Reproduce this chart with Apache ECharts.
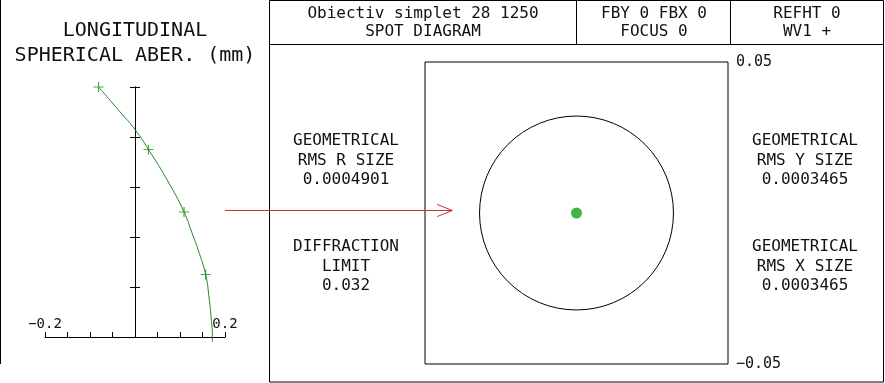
<!DOCTYPE html>
<html>
<head>
<meta charset="utf-8">
<script src="https://cdn.jsdelivr.net/npm/echarts@6/dist/echarts.min.js"></script>
<style>
html,body{margin:0;padding:0;background:#fff;}
#c{width:885px;height:383px;}
</style>
</head>
<body>
<div id="c"></div>
<script>
// ---- Data ----
// Longitudinal spherical aberration curve (x = aberration in mm, y = normalized pupil height)
const curveX = [-0.081, -0.033, 0.000, 0.030, 0.074, 0.109, 0.127, 0.140, 0.157, 0.165, 0.169, 0.172, 0.172];
const curveY = [1.00, 0.90, 0.83, 0.75, 0.62, 0.50, 0.415, 0.35, 0.25, 0.15, 0.08, 0.00, -0.02];
// '+' markers on the curve
const markerX = [-0.081, 0.030, 0.109, 0.157];
const markerY = [1.00, 0.75, 0.50, 0.25];
// Aberration axis tick labels
const aberTickLabels = ['-0.2', '0.2'];
// Spot diagram
const spotX = [0];
const spotY = [0];
const diffractionLimit = 0.032;   // Airy radius (mm)
const spotTickLabels = ['-0.05', '0.05'];
// Texts
const leftTitle = ['LONGITUDINAL', 'SPHERICAL ABER. (mm)'];
const headerCells = [
  ['Obiectiv simplet 28 1250', 'SPOT DIAGRAM'],
  ['FBY 0 FBX 0', 'FOCUS 0'],
  ['REFHT 0', 'WV1 +']
];
const leftInfo = [
  ['GEOMETRICAL', 'RMS R SIZE', '0.0004901'],
  ['DIFFRACTION', 'LIMIT', '0.032']
];
const rightInfo = [
  ['GEOMETRICAL', 'RMS Y SIZE', '0.0003465'],
  ['GEOMETRICAL', 'RMS X SIZE', '0.0003465']
];

const FONT = '"DejaVu Sans Mono", "Liberation Mono", monospace';
const GREEN = '#1f8c1f';
const INK = '#111';

const chart = echarts.init(document.getElementById('c'), null, {renderer: 'canvas'});

function fmtLabel(v, labels) {
  for (const s of labels) {
    if (Math.abs(parseFloat(s) - v) < 1e-9) return s.replace('-', '\u2212');
  }
  return '';
}

const option = {
  animation: false,
  backgroundColor: '#fff',
  grid: [
    {left: 45, top: 87, width: 180, height: 250},
    {left: 425, top: 62, width: 303, height: 302, show: true, borderColor: '#000', borderWidth: 1, backgroundColor: 'transparent'}
  ],
  xAxis: [
    {
      type: 'value', gridIndex: 0, min: -0.2, max: 0.2, interval: 0.05,
      axisLine: {show: true, onZero: true, lineStyle: {color: '#000', width: 1}},
      axisTick: {show: true, inside: true, length: 5, lineStyle: {color: '#000'}},
      axisLabel: {show: true, inside: true, margin: 6, color: INK, fontFamily: FONT, fontSize: 14,
        showMinLabel: true, showMaxLabel: true, hideOverlap: false,
        formatter: v => fmtLabel(v, aberTickLabels)},
      splitLine: {show: false}
    },
    {type: 'value', gridIndex: 1, min: -0.05, max: 0.05, show: false}
  ],
  yAxis: [
    {
      type: 'value', gridIndex: 0, min: 0, max: 1, interval: 0.2, position: 'left',
      axisLine: {show: true, onZero: true, lineStyle: {color: '#000', width: 1}},
      axisTick: {show: true, inside: false, length: 5, lineStyle: {color: '#000'}},
      axisLabel: {show: false}, splitLine: {show: false}
    },
    {
      type: 'value', gridIndex: 0, min: 0, max: 1, interval: 0.2, position: 'right',
      axisLine: {show: true, onZero: true, onZeroAxisIndex: 0, lineStyle: {color: '#000', width: 1}},
      axisTick: {show: true, inside: false, length: 5, lineStyle: {color: '#000'}},
      axisLabel: {show: false}, splitLine: {show: false}
    },
    {
      type: 'value', gridIndex: 1, min: -0.05, max: 0.05, interval: 0.05, position: 'right',
      axisLine: {show: false}, axisTick: {show: false}, splitLine: {show: false},
      axisLabel: {show: true, margin: 8, color: INK, fontFamily: FONT, fontSize: 15,
        showMinLabel: true, showMaxLabel: true,
        formatter: v => fmtLabel(v, spotTickLabels)}
    }
  ],
  series: [
    {
      type: 'line', xAxisIndex: 0, yAxisIndex: 0, smooth: 0.5, showSymbol: false, clip: false,
      lineStyle: {color: GREEN, width: 1}, silent: true,
      data: curveX.map((x, i) => [x, curveY[i]])
    },
    {
      type: 'scatter', xAxisIndex: 0, yAxisIndex: 0, symbol: 'path://M0,5L10,5M5,0L5,10',
      symbolSize: 10, clip: false,
      itemStyle: {color: 'transparent', borderColor: GREEN, borderWidth: 1.2},
      data: markerX.map((x, i) => [x, markerY[i]])
    },
    {
      type: 'custom', xAxisIndex: 1, yAxisIndex: 2, silent: true,
      data: [[0, 0, diffractionLimit]],
      renderItem: function (params, api) {
        const c = api.coord([api.value(0), api.value(1)]);
        const r = api.size([api.value(2), 0])[0];
        return {type: 'circle', shape: {cx: c[0], cy: c[1], r: r},
          style: {fill: 'none', stroke: '#000', lineWidth: 1}};
      }
    },
    {
      type: 'scatter', xAxisIndex: 1, yAxisIndex: 2, symbol: 'circle', symbolSize: 11,
      itemStyle: {color: '#16a016'},
      data: spotX.map((x, i) => [x, spotY[i]])
    }
  ]
};
chart.setOption(option);

// ---- Frame, texts and connector arrow ----
const els = [];
function line(x1, y1, x2, y2, color, w) {
  els.push({type: 'line', silent: true, shape: {x1, y1, x2, y2}, style: {stroke: color || '#000', lineWidth: w || 1}});
}
function text(x, y, s, size) {
  els.push({type: 'text', silent: true, x: x, y: y,
    style: {text: s, fill: INK, font: size + 'px ' + FONT, textAlign: 'center', textVerticalAlign: 'middle'}});
}
// left border
line(0.5, 0, 0.5, 364);
// right panel frame
els.push({type: 'rect', silent: true, shape: {x: 269.5, y: 0.5, width: 614, height: 381.5}, style: {fill: 'none', stroke: '#000', lineWidth: 1}});
line(269.5, 44.5, 883.5, 44.5);
line(576.5, 0, 576.5, 44.5);
line(730.5, 0, 730.5, 44.5);

// left title
text(135, 31, leftTitle[0], 20);
text(135, 56, leftTitle[1], 20);
// header
const cellCenters = [423, 654, 807];
headerCells.forEach((cell, i) => {
  text(cellCenters[i], 14, cell[0], 16);
  text(cellCenters[i], 32, cell[1], 16);
});
// info blocks
const infoRows = [[141, 160.5, 179.5], [247, 266.5, 285.5]];
leftInfo.forEach((blk, b) => blk.forEach((s, k) => text(346, infoRows[b][k], s, 16)));
rightInfo.forEach((blk, b) => blk.forEach((s, k) => text(805, infoRows[b][k], s, 16)));

// connector arrow from aberration plot to spot diagram
const p0 = chart.convertToPixel({xAxisIndex: 0, yAxisIndex: 0}, [0.2, 0.51]);
const p1 = chart.convertToPixel({xAxisIndex: 1, yAxisIndex: 2}, [-0.041, 0]);
const ay = Math.round(p0[1]) + 0.5;
const RED = '#cc3333';
line(p0[0], ay, p1[0], ay, RED, 1);
els.push({type: 'polyline', silent: true,
  shape: {points: [[p1[0] - 15, ay - 6], [p1[0], ay], [p1[0] - 15, ay + 6]]},
  style: {fill: 'none', stroke: RED, lineWidth: 1}});

chart.setOption({graphic: {elements: els}});
</script>
</body>
</html>
